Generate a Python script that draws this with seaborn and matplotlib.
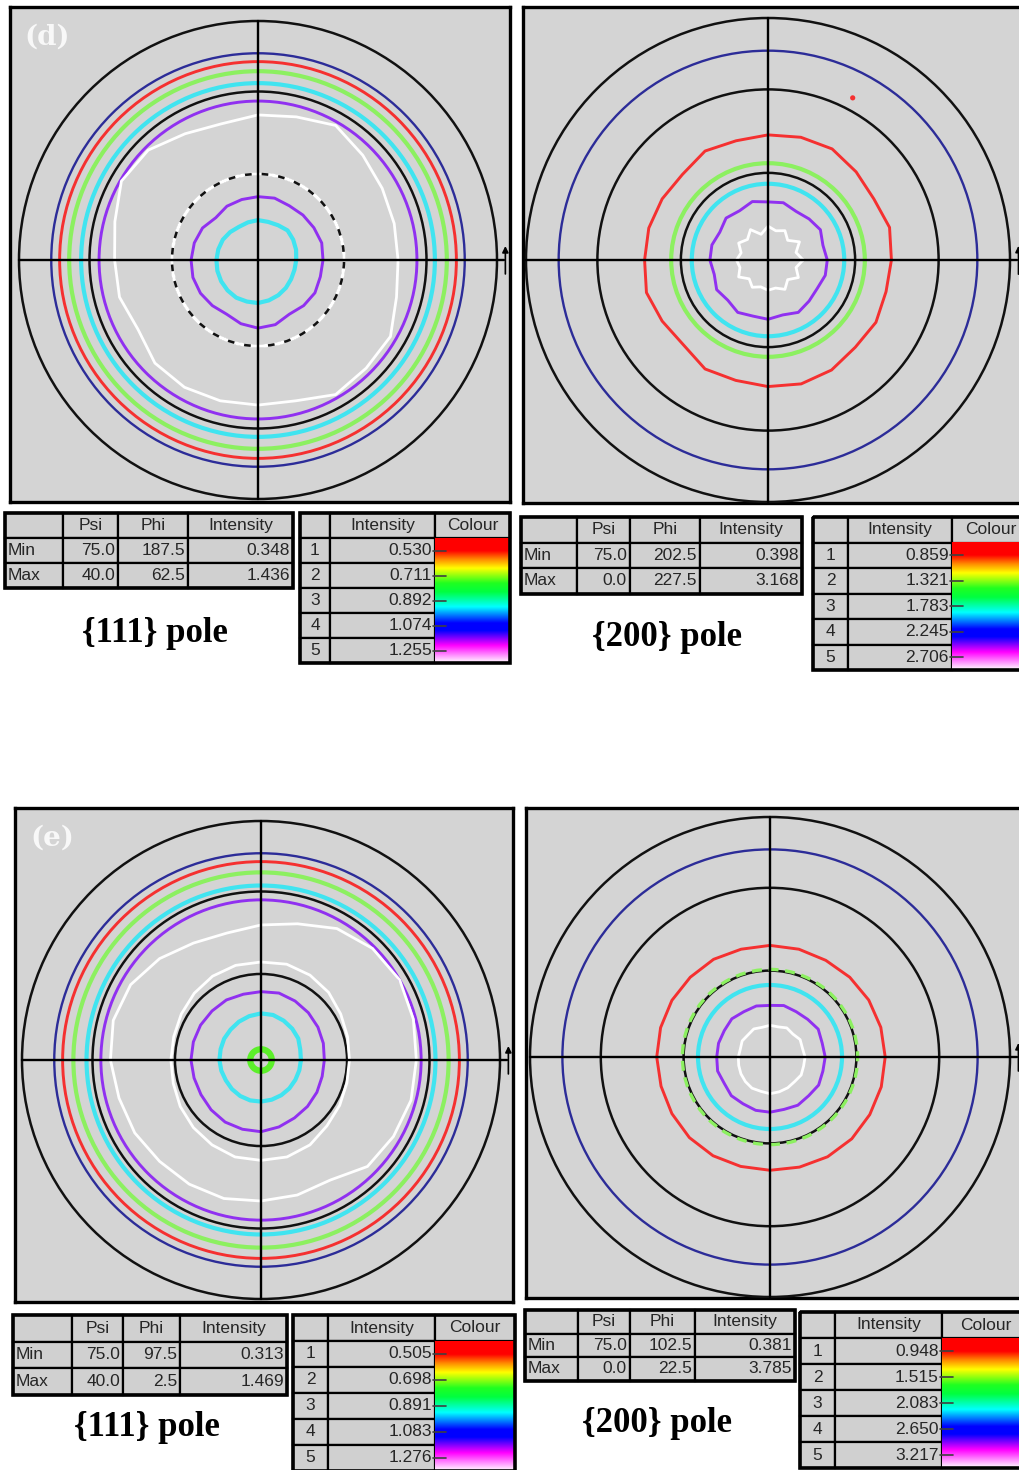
import numpy as np
import seaborn as sns
import matplotlib.pyplot as plt
from matplotlib.patches import Circle, Rectangle
from matplotlib.colors import LinearSegmentedColormap

sns.set_style("white")
plt.rcParams["font.family"] = ["Liberation Sans", "DejaVu Sans"]

W, H = 1020, 1470

# ---------------- data ----------------
# contour radii (fraction of the outer circle) sampled every 15 deg, CCW from +x
ANGLES = np.arange(0, 360, 15)

# (d) {111}
d111_ring_r = [0.865, 0.83, 0.79, 0.74, 0.665]
d111_ring_lvl = [0, 1, 2, 3, 4]
d111_dash_r = [0.36]
d111_dash_lvl = [5]
d111_white = [0.586, 0.59, 0.60, 0.62, 0.65, 0.62, 0.607, 0.59, 0.61, 0.65, 0.66, 0.62,
              0.60, 0.60, 0.58, 0.61, 0.615, 0.61, 0.607, 0.61, 0.65, 0.64, 0.64, 0.60]
d111_purple = [0.272, 0.276, 0.27, 0.266, 0.262, 0.268, 0.265, 0.262, 0.26, 0.25, 0.268, 0.276,
               0.28, 0.282, 0.278, 0.27, 0.262, 0.276, 0.285, 0.28, 0.262, 0.27, 0.275, 0.27]
d111_cyan = [0.16, 0.165, 0.17, 0.175, 0.168, 0.165, 0.167, 0.163, 0.16, 0.165, 0.17, 0.172,
             0.174, 0.176, 0.178, 0.18, 0.182, 0.18, 0.18, 0.175, 0.17, 0.165, 0.16, 0.158]

# (d) {200}
d200_ring_r = [0.865, 0.40, 0.315]
d200_ring_lvl = [0, 2, 3]
d200_red = [0.51, 0.52, 0.505, 0.515, 0.53, 0.525, 0.517, 0.51, 0.52, 0.50, 0.505, 0.51,
            0.51, 0.52, 0.505, 0.495, 0.52, 0.515, 0.523, 0.53, 0.525, 0.51, 0.515, 0.505]
d200_purple = [0.245, 0.235, 0.25, 0.24, 0.232, 0.245, 0.24, 0.25, 0.235, 0.245, 0.23, 0.24,
               0.24, 0.23, 0.245, 0.235, 0.25, 0.24, 0.245, 0.235, 0.25, 0.24, 0.235, 0.245]
d200_white = [0.145, 0.12, 0.15, 0.115, 0.14, 0.125, 0.14, 0.11, 0.145, 0.12, 0.14, 0.115,
              0.13, 0.12, 0.14, 0.11, 0.13, 0.115, 0.125, 0.12, 0.14, 0.115, 0.145, 0.12]
d200_spot_x = [0.35]
d200_spot_y = [0.67]

# (e) {111}
e111_ring_r = [0.865, 0.83, 0.785, 0.73, 0.67]
e111_ring_lvl = [0, 1, 2, 3, 4]
e111_dot_r = [0.045]
e111_white = [0.65, 0.66, 0.67, 0.66, 0.635, 0.59, 0.565, 0.55, 0.565, 0.60, 0.63, 0.64,
              0.63, 0.615, 0.61, 0.60, 0.60, 0.60, 0.59, 0.585, 0.58, 0.63, 0.64, 0.65]
e111_white_in = [0.37, 0.375, 0.385, 0.40, 0.41, 0.415, 0.41, 0.41, 0.405, 0.395, 0.385, 0.378,
                 0.377, 0.38, 0.39, 0.40, 0.41, 0.42, 0.42, 0.42, 0.41, 0.39, 0.38, 0.372]
e111_purple = [0.265, 0.27, 0.275, 0.28, 0.285, 0.29, 0.286, 0.285, 0.29, 0.29, 0.292, 0.293,
               0.293, 0.29, 0.29, 0.295, 0.30, 0.30, 0.30, 0.29, 0.28, 0.275, 0.27, 0.265]
e111_cyan = [0.167, 0.17, 0.18, 0.185, 0.19, 0.195, 0.195, 0.19, 0.185, 0.18, 0.178, 0.175,
             0.174, 0.172, 0.17, 0.172, 0.174, 0.175, 0.174, 0.172, 0.17, 0.168, 0.166, 0.166]

# (e) {200}
e200_ring_r = [0.865, 0.30]
e200_ring_lvl = [0, 3]
e200_dash_r = [0.365]
e200_dash_lvl = [2]
e200_red = [0.48, 0.478, 0.475, 0.47, 0.465, 0.465, 0.465, 0.465, 0.47, 0.47, 0.472, 0.472,
            0.472, 0.47, 0.472, 0.475, 0.475, 0.472, 0.472, 0.475, 0.48, 0.482, 0.48, 0.48]
e200_purple = [0.23, 0.225, 0.232, 0.222, 0.218, 0.222, 0.215, 0.22, 0.218, 0.225, 0.22, 0.222,
               0.222, 0.226, 0.22, 0.228, 0.225, 0.23, 0.23, 0.226, 0.232, 0.228, 0.234, 0.228]
e200_white = [0.146, 0.14, 0.145, 0.135, 0.14, 0.13, 0.132, 0.128, 0.135, 0.13, 0.134, 0.128,
              0.132, 0.135, 0.14, 0.145, 0.15, 0.148, 0.153, 0.15, 0.148, 0.145, 0.15, 0.145]

# psi grid circles shared by every pole figure
grid_r = [1.0, 0.705, 0.36]

# table contents
stat_header = ["", "Psi", "Phi", "Intensity"]
d111_min = ["Min", "75.0", "187.5", "0.348"]
d111_max = ["Max", "40.0", "62.5", "1.436"]
d200_min = ["Min", "75.0", "202.5", "0.398"]
d200_max = ["Max", "0.0", "227.5", "3.168"]
e111_min = ["Min", "75.0", "97.5", "0.313"]
e111_max = ["Max", "40.0", "2.5", "1.469"]
e200_min = ["Min", "75.0", "102.5", "0.381"]
e200_max = ["Max", "0.0", "22.5", "3.785"]

d111_levels = [0.530, 0.711, 0.892, 1.074, 1.255]
d200_levels = [0.859, 1.321, 1.783, 2.245, 2.706]
e111_levels = [0.505, 0.698, 0.891, 1.083, 1.276]
e200_levels = [0.948, 1.515, 2.083, 2.650, 3.217]

# ---------------- style ----------------
BG = "#d4d4d4"
CELL = "#d0d0d0"
TXT = "#262626"
LEVEL_COLORS = {0: "#2c2c98", 1: "#f53030", 2: "#8cf060", 3: "#40e4f0", 4: "#9030f0", 5: "#ffffff"}
LEVEL_LW = {0: 1.7, 1: 2.1, 2: 3.0, 3: 3.0, 4: 2.1, 5: 2.0}

rainbow = LinearSegmentedColormap.from_list(
    "pf", [(0, "#ff0000"), (0.10, "#ff0000"), (0.17, "#ff8c00"), (0.24, "#ffff00"),
           (0.36, "#20ff20"), (0.43, "#00ff40"), (0.55, "#00ffff"), (0.68, "#0000ff"),
           (0.74, "#0000ff"), (0.86, "#ff00ff"), (1.0, "#ffffff")])

fig = plt.figure(figsize=(W / 100, H / 100), dpi=100)


def pole_axes(box, center, R):
    x0, y0, x1, y1 = box
    ax = fig.add_axes([x0 / W, 1 - y1 / H, (x1 - x0) / W, (y1 - y0) / H])
    ax.set_facecolor(BG)
    ax.set_xticks([])
    ax.set_yticks([])
    for s in ax.spines.values():
        s.set_linewidth(2.4)
        s.set_color("black")
    lims = ((x0 - center[0]) / R, (x1 - center[0]) / R,
            (center[1] - y1) / R, (center[1] - y0) / R)
    return ax, lims


def draw_contour(ax, radii, level):
    t = np.deg2rad(np.append(ANGLES, ANGLES[0]))
    r = np.append(radii, radii[0])
    sns.lineplot(x=r * np.cos(t), y=r * np.sin(t), sort=False, estimator=None,
                 color=LEVEL_COLORS[level], linewidth=LEVEL_LW[level], ax=ax, zorder=4)


def draw_pole(box, center, R, rings, ring_lvls, contours, dashes=(), dash_lvls=(), label=None):
    ax, lims = pole_axes(box, center, R)
    for r in grid_r:
        ax.add_patch(Circle((0, 0), r, fill=False, ec="#111111", lw=1.8, zorder=3))
    for r, lv in zip(rings, ring_lvls):
        ax.add_patch(Circle((0, 0), r, fill=False, ec=LEVEL_COLORS[lv], lw=LEVEL_LW[lv], zorder=3))
    for radii, lv in contours:
        draw_contour(ax, radii, lv)
    for r, lv in zip(dashes, dash_lvls):
        ax.add_patch(Circle((0, 0), r, fill=False, ec=LEVEL_COLORS[lv], lw=2.4,
                            ls=(0, (3, 2)), zorder=5))
    # cross hair and the little reference arrow
    ax.plot([-1.0, 1.03], [0, 0], color="black", lw=1.7, zorder=6)
    ax.plot([0, 0], [-1.0, 1.0], color="black", lw=1.7, zorder=6)
    ax.annotate("", xy=(1.035, 0.07), xytext=(1.035, -0.07),
                arrowprops=dict(arrowstyle="-|>", color="black", lw=1.2, mutation_scale=9),
                zorder=7)
    if label:
        ax.text(0.074, 0.94, label, transform=ax.transAxes, ha="center", va="center",
                fontsize=20, fontweight="bold", color="#f8f8f8",
                family=["DejaVu Serif"], zorder=8)
    ax.set_xlim(lims[0], lims[1])
    ax.set_ylim(lims[2], lims[3])
    ax.set_xlabel("")
    ax.set_ylabel("")
    return ax


draw_pole((10, 7, 510, 502), (258, 260), 239, d111_ring_r, d111_ring_lvl,
          [(d111_white, 5), (d111_purple, 4), (d111_cyan, 3)],
          d111_dash_r, d111_dash_lvl, label="(d)")

ax200 = draw_pole((523, 7, 1026, 503), (768, 260), 242, d200_ring_r, d200_ring_lvl,
                  [(d200_red, 1), (d200_purple, 4), (d200_white, 5)])
sns.scatterplot(x=d200_spot_x, y=d200_spot_y, color=LEVEL_COLORS[1], s=14,
                edgecolor="none", ax=ax200, zorder=8)

ax111e = draw_pole((15, 808, 513, 1302), (261, 1060), 239, e111_ring_r, e111_ring_lvl,
                   [(e111_white, 5), (e111_white_in, 5), (e111_purple, 4), (e111_cyan, 3)],
                   label="(e)")
for r in e111_dot_r:
    ax111e.add_patch(Circle((0, 0), r, fill=False, ec="#5cf02a", lw=4.5, zorder=5))

draw_pole((526, 808, 1026, 1298), (770, 1057), 240, e200_ring_r, e200_ring_lvl,
          [(e200_red, 1), (e200_purple, 4), (e200_white, 5)],
          e200_dash_r, e200_dash_lvl)

# ---------------- tables and captions (pixel coordinates) ----------------
ov = fig.add_axes([0, 0, 1, 1])
ov.axis("off")


def cell_text(x_l, x_r, y_c, txt, align):
    kw = dict(va="center", fontsize=12.5, color=TXT)
    if align == "l":
        ov.text(x_l + 3, y_c, txt, ha="left", **kw)
    elif align == "r":
        ov.text(x_r - 3, y_c, txt, ha="right", **kw)
    else:
        ov.text((x_l + x_r) / 2, y_c, txt, ha="center", **kw)


def stats_table(xs, y0, h, rows):
    for i, row in enumerate(rows):
        for j, txt in enumerate(row):
            ov.add_patch(Rectangle((xs[j], y0 + i * h), xs[j + 1] - xs[j], h,
                                   fc=CELL, ec="black", lw=1.6))
            align = "c" if i == 0 else ("l" if j == 0 else "r")
            cell_text(xs[j], xs[j + 1], y0 + (i + 0.5) * h, txt, align)
    ov.add_patch(Rectangle((xs[0], y0), xs[-1] - xs[0], h * len(rows),
                           fc="none", ec="black", lw=2.6))


def level_table(xs, y0, h, levels):
    n = len(levels)
    header = ["", "Intensity", "Colour"]
    for j, txt in enumerate(header):
        ov.add_patch(Rectangle((xs[j], y0), xs[j + 1] - xs[j], h, fc=CELL, ec="black", lw=1.6))
        cell_text(xs[j], xs[j + 1], y0 + h / 2, txt, "c")
    for i, v in enumerate(levels):
        yt = y0 + (i + 1) * h
        for j in range(2):
            ov.add_patch(Rectangle((xs[j], yt), xs[j + 1] - xs[j], h, fc=CELL, ec="black", lw=1.6))
        cell_text(xs[0], xs[1], yt + h / 2, str(i + 1), "c")
        cell_text(xs[1], xs[2], yt + h / 2, f"{v:.3f}", "r")
    grad = np.linspace(0, 1, 256).reshape(-1, 1)
    ov.imshow(grad, cmap=rainbow, aspect="auto", interpolation="bilinear",
              extent=(xs[2], xs[3], y0 + (n + 1) * h, y0 + h), zorder=2)
    for i in range(n):
        yc = y0 + (i + 1.5) * h
        ov.plot([xs[2] - 2, xs[2] + 11], [yc, yc], color="#404040", lw=1.2, zorder=3)
    ov.add_patch(Rectangle((xs[0], y0), xs[-1] - xs[0], h * (n + 1),
                           fc="none", ec="black", lw=2.6, zorder=4))


def caption(x, y, txt):
    ov.text(x, y, txt, ha="center", va="center", fontsize=25, fontweight="bold",
            family=["Liberation Serif", "DejaVu Serif"], color="black")


stats_table([5, 63, 118, 188, 293], 513, 25, [stat_header, d111_min, d111_max])
level_table([300, 330, 435, 510], 513, 25, d111_levels)
caption(155, 633, "{111} pole")

stats_table([521, 577, 630, 700, 802], 517, 25.5, [stat_header, d200_min, d200_max])
level_table([813, 848, 952, 1030], 517, 25.5, d200_levels)
caption(667, 637, "{200} pole")

stats_table([13, 72, 123, 180, 287], 1315, 26.5, [stat_header, e111_min, e111_max])
level_table([293, 328, 435, 515], 1315, 26, e111_levels)
caption(147, 1427, "{111} pole")

stats_table([525, 578, 630, 695, 795], 1310, 23.5, [stat_header, e200_min, e200_max])
level_table([800, 835, 942, 1030], 1312, 26, e200_levels)
caption(657, 1423, "{200} pole")

ov.set_xlim(0, W)
ov.set_ylim(H, 0)

fig.savefig("out.png", dpi=100)
